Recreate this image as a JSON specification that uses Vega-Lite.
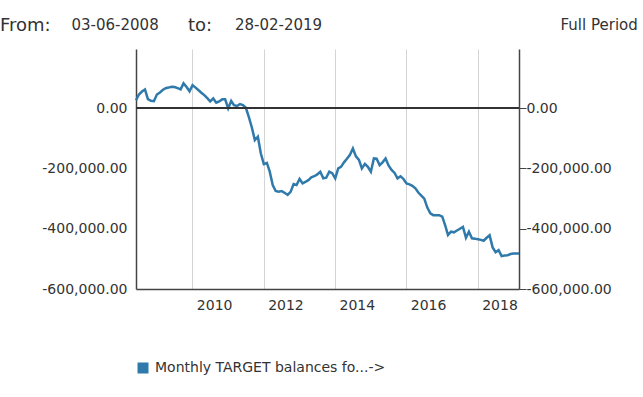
{
  "$schema": "https://vega.github.io/schema/vega-lite/v6.json",
  "autosize": "none",
  "width": 383,
  "height": 240,
  "padding": {"left": 136, "top": 49, "right": 124, "bottom": 108},
  "background": "white",
  "title": {
    "text": "From:\u00a0\u00a0\u00a0\u00a0\u00a0\u00a0\u00a0\u00a0\u00a0\u00a0\u00a0\u00a0\u00a0\u00a0\u00a0\u00a0\u00a0\u00a0\u00a0\u00a0\u00a0\u00a0\u00a0\u00a0to:",
    "subtitle": "\u200b\u00a0\u00a0\u00a0\u00a0\u00a0\u00a0\u00a0\u00a0\u00a0\u00a0\u00a0\u00a0\u00a0\u00a0\u00a003-06-2008\u00a0\u00a0\u00a0\u00a0\u00a0\u00a0\u00a0\u00a0\u00a0\u00a0\u00a0\u00a0\u00a0\u00a0\u00a0\u00a028-02-2019\u00a0\u00a0\u00a0\u00a0\u00a0\u00a0\u00a0\u00a0\u00a0\u00a0\u00a0\u00a0\u00a0\u00a0\u00a0\u00a0\u00a0\u00a0\u00a0\u00a0\u00a0\u00a0\u00a0\u00a0\u00a0\u00a0\u00a0\u00a0\u00a0\u00a0\u00a0\u00a0\u00a0\u00a0\u00a0\u00a0\u00a0\u00a0\u00a0\u00a0\u00a0\u00a0\u00a0\u00a0\u00a0\u00a0\u00a0\u00a0\u00a0\u00a0Full Period",
    "anchor": "start",
    "frame": "group",
    "dx": -136,
    "offset": 14,
    "font": "DejaVu Sans",
    "fontSize": 18,
    "fontWeight": "normal",
    "color": "#333333",
    "subtitleFont": "DejaVu Sans",
    "subtitleFontSize": 15,
    "subtitleColor": "#333333",
    "subtitlePadding": -17
  },
  "data": {
    "values": [
      {"date": "2008-06-03", "value": 26000},
      {"date": "2008-07-03", "value": 45000},
      {"date": "2008-08-03", "value": 55000},
      {"date": "2008-09-03", "value": 62000},
      {"date": "2008-10-03", "value": 30000},
      {"date": "2008-11-03", "value": 24000},
      {"date": "2008-12-03", "value": 23000},
      {"date": "2009-01-03", "value": 45000},
      {"date": "2009-02-03", "value": 52000},
      {"date": "2009-03-03", "value": 60000},
      {"date": "2009-04-03", "value": 66000},
      {"date": "2009-05-03", "value": 68000},
      {"date": "2009-06-03", "value": 71000},
      {"date": "2009-07-03", "value": 70000},
      {"date": "2009-08-03", "value": 66000},
      {"date": "2009-09-03", "value": 62000},
      {"date": "2009-10-03", "value": 82000},
      {"date": "2009-11-03", "value": 70000},
      {"date": "2009-12-03", "value": 56000},
      {"date": "2010-01-03", "value": 76000},
      {"date": "2010-02-03", "value": 68000},
      {"date": "2010-03-03", "value": 60000},
      {"date": "2010-04-03", "value": 51000},
      {"date": "2010-05-03", "value": 43000},
      {"date": "2010-06-03", "value": 33000},
      {"date": "2010-07-03", "value": 22000},
      {"date": "2010-08-03", "value": 32000},
      {"date": "2010-09-03", "value": 18000},
      {"date": "2010-10-03", "value": 22000},
      {"date": "2010-11-03", "value": 29000},
      {"date": "2010-12-03", "value": 29000},
      {"date": "2011-01-03", "value": -1000},
      {"date": "2011-02-03", "value": 24000},
      {"date": "2011-03-03", "value": 10000},
      {"date": "2011-04-03", "value": 7000},
      {"date": "2011-05-03", "value": 13000},
      {"date": "2011-06-03", "value": 10000},
      {"date": "2011-07-03", "value": 1000},
      {"date": "2011-08-03", "value": -30000},
      {"date": "2011-09-03", "value": -65000},
      {"date": "2011-10-03", "value": -106000},
      {"date": "2011-11-03", "value": -95000},
      {"date": "2011-12-03", "value": -150000},
      {"date": "2012-01-03", "value": -186000},
      {"date": "2012-02-03", "value": -182000},
      {"date": "2012-03-03", "value": -210000},
      {"date": "2012-04-03", "value": -255000},
      {"date": "2012-05-03", "value": -275000},
      {"date": "2012-06-03", "value": -277000},
      {"date": "2012-07-03", "value": -275000},
      {"date": "2012-08-03", "value": -281000},
      {"date": "2012-09-03", "value": -288000},
      {"date": "2012-10-03", "value": -278000},
      {"date": "2012-11-03", "value": -252000},
      {"date": "2012-12-03", "value": -255000},
      {"date": "2013-01-03", "value": -235000},
      {"date": "2013-02-03", "value": -250000},
      {"date": "2013-03-03", "value": -245000},
      {"date": "2013-04-03", "value": -239000},
      {"date": "2013-05-03", "value": -230000},
      {"date": "2013-06-03", "value": -226000},
      {"date": "2013-07-03", "value": -220000},
      {"date": "2013-08-03", "value": -211000},
      {"date": "2013-09-03", "value": -233000},
      {"date": "2013-10-03", "value": -231000},
      {"date": "2013-11-03", "value": -211000},
      {"date": "2013-12-03", "value": -216000},
      {"date": "2014-01-03", "value": -233000},
      {"date": "2014-02-03", "value": -200000},
      {"date": "2014-03-03", "value": -195000},
      {"date": "2014-04-03", "value": -180000},
      {"date": "2014-05-03", "value": -168000},
      {"date": "2014-06-03", "value": -155000},
      {"date": "2014-07-03", "value": -134000},
      {"date": "2014-08-03", "value": -160000},
      {"date": "2014-09-03", "value": -172000},
      {"date": "2014-10-03", "value": -200000},
      {"date": "2014-11-03", "value": -185000},
      {"date": "2014-12-03", "value": -195000},
      {"date": "2015-01-03", "value": -211000},
      {"date": "2015-02-03", "value": -167000},
      {"date": "2015-03-03", "value": -168000},
      {"date": "2015-04-03", "value": -189000},
      {"date": "2015-05-03", "value": -180000},
      {"date": "2015-06-03", "value": -167000},
      {"date": "2015-07-03", "value": -190000},
      {"date": "2015-08-03", "value": -205000},
      {"date": "2015-09-03", "value": -215000},
      {"date": "2015-10-03", "value": -233000},
      {"date": "2015-11-03", "value": -226000},
      {"date": "2015-12-03", "value": -235000},
      {"date": "2016-01-03", "value": -250000},
      {"date": "2016-02-03", "value": -253000},
      {"date": "2016-03-03", "value": -258000},
      {"date": "2016-04-03", "value": -266000},
      {"date": "2016-05-03", "value": -280000},
      {"date": "2016-06-03", "value": -290000},
      {"date": "2016-07-03", "value": -300000},
      {"date": "2016-08-03", "value": -330000},
      {"date": "2016-09-03", "value": -349000},
      {"date": "2016-10-03", "value": -355000},
      {"date": "2016-11-03", "value": -355000},
      {"date": "2016-12-03", "value": -355000},
      {"date": "2017-01-03", "value": -360000},
      {"date": "2017-02-03", "value": -390000},
      {"date": "2017-03-03", "value": -421000},
      {"date": "2017-04-03", "value": -410000},
      {"date": "2017-05-03", "value": -412000},
      {"date": "2017-06-03", "value": -406000},
      {"date": "2017-07-03", "value": -400000},
      {"date": "2017-08-03", "value": -394000},
      {"date": "2017-09-03", "value": -430000},
      {"date": "2017-10-03", "value": -410000},
      {"date": "2017-11-03", "value": -432000},
      {"date": "2017-12-03", "value": -433000},
      {"date": "2018-01-03", "value": -435000},
      {"date": "2018-02-03", "value": -437000},
      {"date": "2018-03-03", "value": -440000},
      {"date": "2018-04-03", "value": -430000},
      {"date": "2018-05-03", "value": -422000},
      {"date": "2018-06-03", "value": -462000},
      {"date": "2018-07-03", "value": -478000},
      {"date": "2018-08-03", "value": -471000},
      {"date": "2018-09-03", "value": -491000},
      {"date": "2018-10-03", "value": -489000},
      {"date": "2018-11-03", "value": -488000},
      {"date": "2018-12-03", "value": -484000},
      {"date": "2019-01-03", "value": -482000},
      {"date": "2019-02-28", "value": -482000}
    ]
  },
  "layer": [
    {
      "mark": {"type": "line", "strokeWidth": 2.5, "interpolate": "linear"},
      "encoding": {
        "x": {
          "field": "date",
          "type": "temporal",
          "scale": {
            "type": "utc",
            "domain": [
              {"year": 2008, "month": 6, "date": 3, "utc": true},
              {"year": 2019, "month": 2, "date": 28, "utc": true}
            ]
          },
          "axis": {
            "title": null,
            "values": [
              {"year": 2010, "month": 1, "date": 1, "utc": true},
              {"year": 2012, "month": 1, "date": 1, "utc": true},
              {"year": 2014, "month": 1, "date": 1, "utc": true},
              {"year": 2016, "month": 1, "date": 1, "utc": true},
              {"year": 2018, "month": 1, "date": 1, "utc": true}
            ],
            "format": "%Y",
            "grid": true,
            "gridColor": "#d4d4d4",
            "gridWidth": 1,
            "ticks": false,
            "domainColor": "#444444",
            "domainWidth": 1.5,
            "labelAlign": "left",
            "labelOffset": 4,
            "labelPadding": 9,
            "labelFontSize": 14,
            "labelFont": "DejaVu Sans",
            "labelColor": "#333333"
          }
        },
        "y": {
          "field": "value",
          "type": "quantitative",
          "scale": {"domain": [-600000, 196000], "nice": false, "zero": false},
          "axis": {
            "title": null,
            "orient": "left",
            "values": [0, -200000, -400000, -600000],
            "format": ",.2f",
            "grid": false,
            "ticks": false,
            "domainColor": "#444444",
            "domainWidth": 1.5,
            "labelPadding": 9,
            "labelFontSize": 14,
            "labelFont": "DejaVu Sans",
            "labelColor": "#333333"
          }
        },
        "color": {
          "datum": "Monthly TARGET balances fo...->",
          "type": "nominal",
          "scale": {"range": ["#2f7aab"]},
          "legend": {
            "title": null,
            "orient": "none",
            "legendX": 0,
            "legendY": 312,
            "symbolType": "square",
            "symbolSize": 121,
            "symbolFillColor": "#2f7aab",
            "symbolStrokeWidth": 0,
            "symbolOpacity": 1,
            "labelFontSize": 14,
            "labelFont": "DejaVu Sans",
            "labelColor": "#333333",
            "labelLimit": 0,
            "labelOffset": 5
          }
        }
      }
    },
    {
      "mark": {"type": "rule", "color": "#333333", "strokeWidth": 1.5},
      "encoding": {
        "y": {
          "datum": 0,
          "type": "quantitative",
          "axis": {
            "title": null,
            "orient": "right",
            "values": [0, -200000, -400000, -600000],
            "format": ",.2f",
            "grid": false,
            "ticks": true,
            "tickSize": 7,
            "tickColor": "#444444",
            "domainColor": "#444444",
            "domainWidth": 1.5,
            "labelPadding": 0,
            "labelFontSize": 14,
            "labelFont": "DejaVu Sans",
            "labelColor": "#333333"
          }
        }
      }
    }
  ],
  "resolve": {"axis": {"y": "independent"}},
  "config": {
    "view": {"stroke": null},
    "font": "DejaVu Sans",
    "locale": {
      "number": {
        "decimal": ".",
        "thousands": ",",
        "grouping": [3],
        "currency": ["$", ""],
        "minus": "-"
      }
    }
  }
}
